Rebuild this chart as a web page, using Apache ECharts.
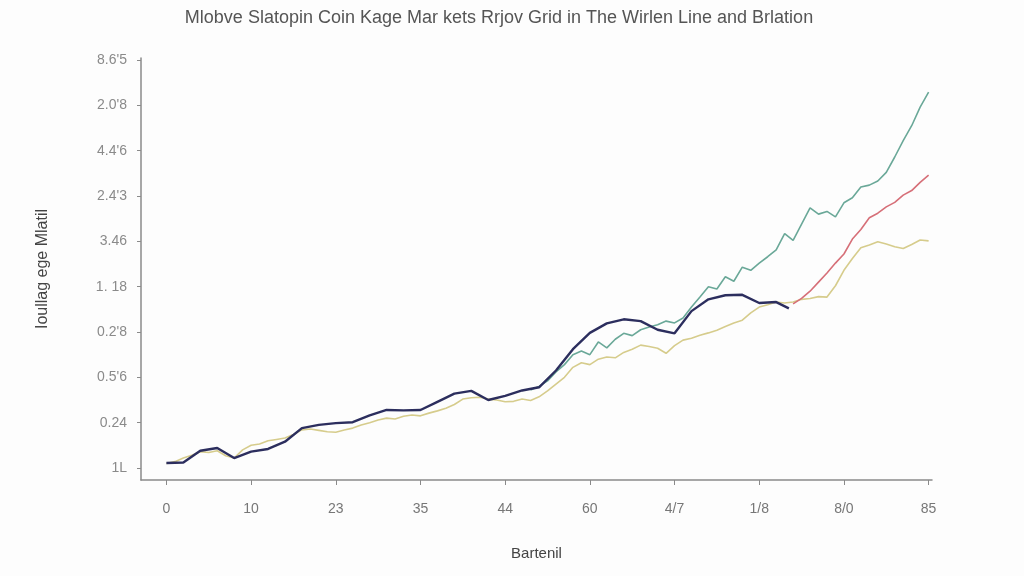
<!DOCTYPE html>
<html>
<head>
<meta charset="utf-8">
<script src="https://cdn.jsdelivr.net/npm/echarts@6/dist/echarts.min.js"></script>
<style>
html,body{margin:0;padding:0;background:#fdfdfd;}
#chart{width:1024px;height:576px;}
</style>
</head>
<body>
<div id="chart"></div>
<script>
const titleText = 'Mlobve Slatopin Coin Kage Mar kets Rrjov Grid in The Wirlen Line and Brlation';
const xAxisName = 'Bartenil';
const yAxisName = 'Ioullag ege Mlatil';
const xLabels = ['0', '10', '23', '35', '44', '60', '4/7', '1/8', '8/0', '85'];
const yLabels = ['1L', '0.24', "0.5'6", "0.2'8", '1. 18', '3.46', "2.4'3", "4.4'6", "2.0'8", "8.6'5"];
const tickPositions = [0, 1, 2, 3, 4, 5, 6, 7, 8, 9];

const navyData = [
  [0.0,0.11],[0.2,0.12],[0.4,0.38],[0.6,0.44],[0.8,0.22],[1.0,0.36],[1.2,0.42],[1.4,0.58],
  [1.6,0.88],[1.8,0.95],[2.0,0.99],[2.2,1.01],[2.4,1.16],[2.6,1.28],[2.8,1.27],[3.0,1.28],
  [3.2,1.46],[3.4,1.64],[3.6,1.70],[3.8,1.50],[4.0,1.59],[4.2,1.71],[4.4,1.78],[4.6,2.15],
  [4.8,2.62],[5.0,2.98],[5.2,3.19],[5.4,3.28],[5.6,3.24],[5.8,3.05],[6.0,2.97],[6.2,3.46],
  [6.4,3.72],[6.6,3.81],[6.8,3.82],[7.0,3.64],[7.2,3.66],[7.35,3.52]
];
const khakiData = [
  [0.0,0.10],[0.1,0.14],[0.2,0.22],[0.3,0.28],[0.4,0.36],[0.5,0.34],[0.6,0.38],[0.7,0.27],
  [0.8,0.22],[0.9,0.40],[1.0,0.50],[1.1,0.53],[1.2,0.60],[1.3,0.63],[1.4,0.66],[1.5,0.74],
  [1.6,0.84],[1.7,0.86],[1.8,0.83],[1.9,0.80],[2.0,0.79],[2.1,0.84],[2.2,0.88],[2.3,0.95],
  [2.4,1.00],[2.5,1.06],[2.6,1.10],[2.7,1.08],[2.8,1.14],[2.9,1.17],[3.0,1.15],[3.1,1.21],
  [3.2,1.26],[3.3,1.32],[3.4,1.40],[3.5,1.52],[3.6,1.55],[3.7,1.56],[3.8,1.52],[3.9,1.50],
  [4.0,1.46],[4.1,1.47],[4.2,1.52],[4.3,1.49],[4.4,1.57],[4.5,1.70],[4.6,1.85],[4.7,2.00],
  [4.8,2.22],[4.9,2.32],[5.0,2.28],[5.1,2.40],[5.2,2.45],[5.3,2.43],[5.4,2.55],[5.5,2.62],
  [5.6,2.71],[5.7,2.68],[5.8,2.64],[5.9,2.53],[6.0,2.70],[6.1,2.82],[6.2,2.86],[6.3,2.93],
  [6.4,2.98],[6.5,3.04],[6.6,3.12],[6.7,3.20],[6.8,3.26],[6.9,3.42],[7.0,3.55],[7.1,3.60],
  [7.2,3.66],[7.3,3.64],[7.4,3.66],[7.5,3.72],[7.6,3.74],[7.7,3.78],[7.8,3.77],[7.9,4.02],
  [8.0,4.36],[8.1,4.62],[8.2,4.86],[8.3,4.92],[8.4,4.99],[8.5,4.94],[8.6,4.88],[8.7,4.84],
  [8.8,4.93],[8.9,5.03],[9.0,5.01]
];
const tealData = [
  [4.3,1.72],[4.4,1.80],[4.5,1.92],[4.6,2.12],[4.7,2.28],[4.8,2.50],[4.9,2.58],[5.0,2.50],
  [5.1,2.78],[5.2,2.65],[5.3,2.84],[5.4,2.97],[5.5,2.92],[5.6,3.05],[5.7,3.11],[5.8,3.16],
  [5.9,3.24],[6.0,3.20],[6.1,3.31],[6.2,3.55],[6.3,3.77],[6.4,4.00],[6.5,3.95],[6.6,4.22],
  [6.7,4.12],[6.8,4.43],[6.9,4.36],[7.0,4.52],[7.1,4.66],[7.2,4.81],[7.3,5.17],[7.4,5.02],
  [7.5,5.38],[7.6,5.74],[7.7,5.60],[7.8,5.66],[7.9,5.54],[8.0,5.85],[8.1,5.96],[8.2,6.20],
  [8.3,6.24],[8.4,6.33],[8.5,6.52],[8.6,6.86],[8.7,7.22],[8.8,7.55],[8.9,7.96],[9.0,8.29]
];
const redData = [
  [7.4,3.62],[7.5,3.74],[7.6,3.90],[7.7,4.10],[7.8,4.30],[7.9,4.52],[8.0,4.72],[8.1,5.05],
  [8.2,5.26],[8.3,5.52],[8.4,5.62],[8.5,5.76],[8.6,5.86],[8.7,6.02],[8.8,6.12],[8.9,6.30],
  [9.0,6.46]
];

const chart = echarts.init(document.getElementById('chart'), null, {renderer: 'canvas'});
const font = 'Liberation Sans, Arial, sans-serif';
function lineSeries(name, data, color, width) {
  return {
    name: name, type: 'line', data: data, showSymbol: false, smooth: false,
    lineStyle: {color: color, width: width}, itemStyle: {color: color}, silent: true
  };
}
chart.setOption({
  backgroundColor: '#fdfdfd',
  animation: false,
  title: {
    text: titleText, left: 494, top: 4, textAlign: 'center',
    textStyle: {fontFamily: font, fontSize: 18, fontWeight: 'normal', color: '#555'}
  },
  grid: {left: 141, right: 92, top: 58, bottom: 96},
  xAxis: {
    type: 'value', min: -0.3, max: 9.04,
    name: xAxisName, nameLocation: 'middle', nameGap: 66,
    nameTextStyle: {fontFamily: font, fontSize: 15, color: '#444'},
    axisLine: {show: true, onZero: false, lineStyle: {color: '#8a8a8a', width: 1.5}},
    axisTick: {show: true, customValues: tickPositions, length: 5, lineStyle: {color: '#8a8a8a'}},
    axisLabel: {
      customValues: tickPositions, margin: 22, color: '#777', fontFamily: font, fontSize: 14,
      formatter: function (v) { return xLabels[Math.round(v)]; }
    },
    splitLine: {show: false}
  },
  yAxis: {
    type: 'value', min: -0.265, max: 9.044,
    name: yAxisName, nameLocation: 'middle', nameGap: 90, nameRotate: 90,
    nameTextStyle: {fontFamily: font, fontSize: 16, color: '#444'},
    axisLine: {show: true, onZero: false, lineStyle: {color: '#8a8a8a', width: 1.5}},
    axisTick: {show: true, customValues: tickPositions, length: 4, lineStyle: {color: '#8a8a8a'}},
    axisLabel: {
      customValues: tickPositions, margin: 14, color: '#8a8a8a', fontFamily: font, fontSize: 14,
      formatter: function (v) { return yLabels[Math.round(v)]; }
    },
    splitLine: {show: false}
  },
  series: [
    lineSeries('Khaki', khakiData, '#d6cc8c', 1.6),
    lineSeries('Teal', tealData, '#6aa898', 1.6),
    lineSeries('Red', redData, '#d66f78', 1.6),
    lineSeries('Navy', navyData, '#2c2e5e', 2.4)
  ]
});
</script>
</body>
</html>
